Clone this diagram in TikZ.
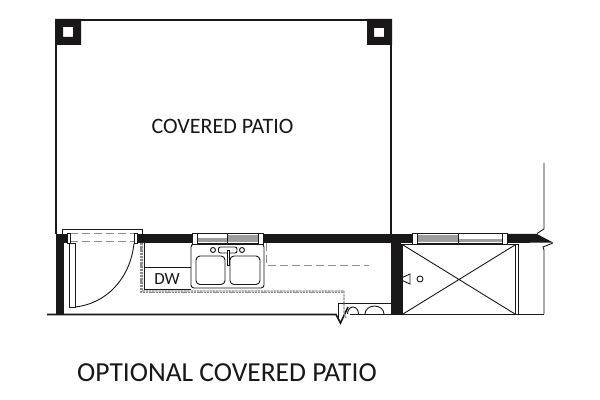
\documentclass[tikz,border=0pt]{standalone}
\usepackage{fontspec}
\setmainfont{Carlito}
\usetikzlibrary{positioning}
\definecolor{wallblack}{HTML}{1A1718}
\definecolor{linegray}{HTML}{8C8C8C}
\begin{document}
\begin{tikzpicture}[x=0.5pt,y=-0.5pt,semithick]
 \tikzstyle{thin line}=[draw=wallblack,line width=0.45pt]
 \tikzstyle{wall line}=[draw=wallblack,line width=0.8pt]
 \tikzstyle{wall}=[fill=wallblack,draw=none]
 \tikzstyle{hidden}=[draw=linegray,line width=0.5pt,dash pattern=on 4pt off 2pt]
 \tikzstyle{hidden fine}=[draw=linegray,line width=0.65pt,dash pattern=on 1.2pt off 0.4pt]
 \tikzstyle{jamb}=[draw=wallblack,fill=white,line width=0.4pt]
 \tikzstyle{pane}=[fill=linegray!85,draw=none]
 \tikzstyle{room label}=[inner sep=0pt,text=wallblack]
 \useasboundingbox (0,0) rectangle (600,400);
 \fill[white] (0,0) rectangle (600,400);
 % patio outline
 \draw[wall line] (56,45) -- (56,234);
 \draw[wall line] (80,20) -- (367,20);
 \draw[wall line] (391,45) -- (391,234);
 % posts
 \fill[wall,even odd rule] (55,19) rectangle (81,45) (63,27) rectangle (73,37);
 \fill[wall,even odd rule] (367,19) rectangle (392,45) (374,28) rectangle (384,37);
 % walls
 \fill[wall] (56,234) rectangle (64,315);
 \fill[wall] (56,234) rectangle (68,243);
 \fill[wall] (137,234) rectangle (192,243);
 \fill[wall] (263,234) rectangle (412,243);
 \fill[wall] (391,243) rectangle (401,315);
 \fill[wall] (507,234) -- (537,234) -- (553,242.5) -- (507,243) -- cycle;
 % right hand break line
 \draw[thin line] (544,163) -- (544,229) -- (537,233.5);
 \draw[thin line] (553,243) -- (543,247) -- (544,250) -- (544,314);
 % floor line
 \draw[wall line] (47,314.5) -- (336,314.5) -- (340.5,323) -- (348,307);
 \draw[wall line] (350,314.5) -- (391,314.5);
 \draw[thin line] (338,318) -- (338,303.5) -- (391,303.5);
 \draw[thin line] (347.5,314) arc (180:360:5.5 and 7);
 \draw[thin line] (365,314) arc (180:360:9.5 and 8);
 % door
 \draw[thin line] (62,234) -- (62,229.5) -- (142,229.5) -- (142,234);
 \draw[hidden] (70,234) -- (134,234) (70,242) -- (134,242);
 \draw[jamb] (67,233) rectangle (70,243.5);
 \draw[jamb] (134,233) rectangle (137,243.5);
 \draw[thin line] (69,243.5) -- (69,307) -- (75,307) -- (75,243.5) (69,243.5) -- (75,243.5);
 \draw[thin line] (75,307) .. controls (105,304) and (130,280) .. (134,243.5);
 % counter and dishwasher
 \draw[hidden fine] (142.5,243) -- (142.5,291) -- (344,291) -- (344,313) -- (346,318);
 \draw[hidden fine] (141,243) -- (141,292.5) -- (342.5,292.5);
 \draw[thin line] (144,243) -- (144,289.5) -- (191,289.5);
 \draw[thin line] (144,267) -- (191,267);
 \node[room label,font=\fontsize{8.5}{10}\selectfont] (DW) at (167,279) {DW};
 % sink
 \draw[thin line,rounded corners=1.5pt] (191,244) rectangle (264,288);
 \draw[thin line,rounded corners=2pt] (196,256) rectangle (225,284.5);
 \draw[thin line,rounded corners=2pt] (230,256) rectangle (260,284.5);
 \draw[thin line] (213,250) circle (2.5) (242,250) circle (2.5);
 \draw[thin line,fill=white,rounded corners=1pt] (218.5,247) rectangle (237,253);
 \draw[thin line,fill=white] (227,250) rectangle (229,265);
 % kitchen window
 \draw[jamb] (192,233) rectangle (263,244);
 \fill[pane] (197,238) rectangle (227,242.5);
 \fill[pane] (227,235) rectangle (258,242.5);
 \draw[thin line] (196,243) -- (258,243) (227,234) -- (227,243);
 \draw[jamb] (192,233) rectangle (197,244) (258,233) rectangle (263,244);
 % dashed run under the sink
 \draw[hidden] (266.5,243) -- (266.5,266) -- (369,266);
 % closet
 \draw[wall line] (402,244.5) rectangle (518.5,314.5);
 \draw[thin line] (515,244.5) -- (515,314.5);
 \draw[thin line] (403,245) -- (515,314) (515,245) -- (403,314);
 \draw[thin line] (410,274) -- (399,279) -- (410,284) -- cycle;
 \draw[thin line] (420,279) circle (3);
 \draw[thin line] (518,314.5) -- (544,314.5);
 % closet window
 \draw[jamb] (412,233) rectangle (507,244);
 \fill[pane] (417,235) rectangle (458,242.5);
 \fill[pane] (458,239.5) rectangle (502,242.5);
 \draw[thin line] (417,243) -- (502,243) (458,234) -- (458,243);
 \draw[jamb] (412,233) rectangle (417,244) (502,233) rectangle (507,244);
 % labels
 \node[room label,font=\fontsize{11}{13}\selectfont] (patio) at (222.5,126.5) {COVERED PATIO};
 \node[room label,font=\fontsize{13.75}{16}\selectfont] (title) at (227,373) {OPTIONAL COVERED PATIO};
\end{tikzpicture}
\end{document}
